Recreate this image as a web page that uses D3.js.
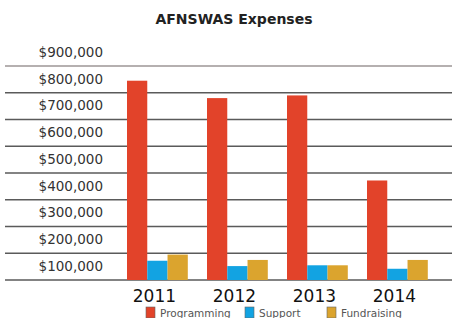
<!DOCTYPE html>
<html>
<head>
<meta charset="utf-8">
<script src="https://cdn.jsdelivr.net/npm/d3@7"></script>
<style>
  body { margin: 0; background: #fff; }
  text { font-family: "DejaVu Sans", Verdana, sans-serif; }
</style>
</head>
<body>
<svg id="chart" width="452" height="318"></svg>
<script>
// chart data
const years = ['2011', '2012', '2013', '2014'];
const seriesNames = ['Programming', 'Support', 'Fundraising'];
const programming = [745000, 680000, 690000, 372000];
const support = [72000, 52000, 55000, 42000];
const fundraising = [95000, 75000, 55000, 75000];
const tickValues = [100000, 200000, 300000, 400000, 500000, 600000, 700000, 800000, 900000];
const colors = ['#e2432a', '#12a3e2', '#dba42e'];

const svg = d3.select('#chart');

const rows = years.map((yr, i) => ({
  year: yr,
  values: [programming[i], support[i], fundraising[i]]
}));

const y = d3.scaleLinear()
  .domain([0, 800000])
  .range([280, 66]);

const x0 = d3.scaleBand()
  .domain(years)
  .range([117.4, 437.4])
  .paddingInner(0.24)
  .paddingOuter(0.12);

const x1 = d3.scaleBand()
  .domain(seriesNames)
  .range([0, x0.bandwidth()]);

// title
svg.append('text')
  .attr('x', 234)
  .attr('y', 24)
  .attr('text-anchor', 'middle')
  .style('font-weight', 'bold')
  .style('font-size', '14px')
  .style('fill', '#222')
  .text('AFNSWAS Expenses');

// grid lines (0 .. 800k)
svg.append('g')
  .selectAll('line')
  .data(d3.range(0, 900000, 100000))
  .enter().append('line')
  .attr('x1', 5)
  .attr('x2', 452)
  .attr('y1', d => y(d))
  .attr('y2', d => y(d))
  .style('stroke', d => d === 800000 ? '#9c9696' : '#5a5a5a')
  .style('stroke-width', 1.4);

// y labels sit half a band below their value, like the original
const half = 50000;
const yAxis = d3.axisLeft(y)
  .tickValues(tickValues)
  .tickSize(0)
  .tickPadding(0)
  .tickFormat(d => '$' + d3.format(',')(d));

const ya = svg.append('g')
  .attr('transform', 'translate(103,0)')
  .call(yAxis);
ya.select('.domain').remove();
ya.selectAll('.tick')
  .attr('transform', d => 'translate(0,' + y(d - half) + ')');
ya.selectAll('text')
  .style('font-family', '"DejaVu Sans", Verdana, sans-serif')
  .style('font-size', '13.5px')
  .style('fill', '#333');

// bars
const groups = svg.append('g')
  .selectAll('g')
  .data(rows)
  .enter().append('g')
  .attr('transform', d => 'translate(' + x0(d.year) + ',0)');

groups.selectAll('rect')
  .data(d => d.values.map((v, i) => ({name: seriesNames[i], value: v, i: i})))
  .enter().append('rect')
  .attr('x', d => x1(d.name))
  .attr('width', x1.bandwidth())
  .attr('y', d => y(d.value))
  .attr('height', d => y(0) - y(d.value))
  .style('fill', d => colors[d.i]);

// x labels
svg.append('g')
  .selectAll('text')
  .data(years)
  .enter().append('text')
  .attr('x', d => x0(d) + x0.bandwidth() / 2 - 3)
  .attr('y', 301.5)
  .attr('text-anchor', 'middle')
  .style('font-size', '17px')
  .style('fill', '#111')
  .text(d => d);

// legend
const legendX = [146, 245, 327];
const legend = svg.append('g')
  .selectAll('g')
  .data(seriesNames)
  .enter().append('g')
  .attr('transform', (d, i) => 'translate(' + legendX[i] + ',307)');

legend.append('rect')
  .attr('width', 9)
  .attr('height', 11)
  .style('fill', (d, i) => colors[i])
  .style('stroke', '#666')
  .style('stroke-width', 0.6);

legend.append('text')
  .attr('x', 14)
  .attr('y', 10)
  .style('font-size', '10.5px')
  .style('fill', '#555')
  .text(d => d);
</script>
</body>
</html>
